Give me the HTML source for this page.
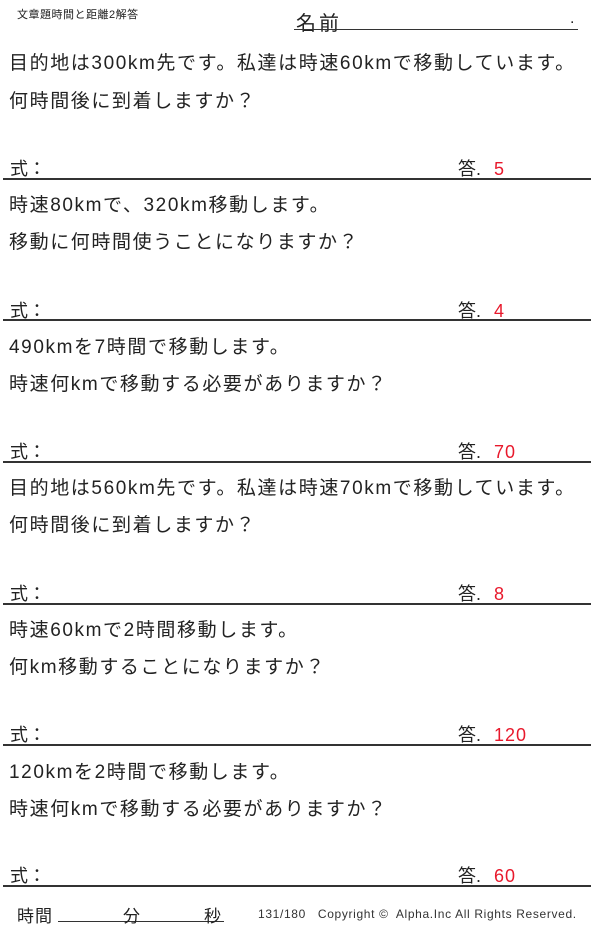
<!DOCTYPE html>
<html><head><meta charset="utf-8"><style>
body{margin:0;width:600px;height:928px;background:#fff;position:relative;font-family:"Liberation Sans","Noto Sans CJK JP",sans-serif;color:#222;overflow:hidden}
.a{position:absolute;white-space:nowrap}
.q{font-size:19px;left:9px;letter-spacing:1.6px}
.f{font-size:18px;left:10px}
.k{font-size:18px;left:458px}
.k span{color:#e8192c;margin-left:8px;letter-spacing:1px}
.ln{position:absolute;left:3px;width:588px;height:2px;background:#333}
</style></head><body>
<div class="a" style="left:17px;top:6px;font-size:11px;letter-spacing:0.5px">文章題時間と距離2解答</div>
<div class="a" style="left:296px;top:7px;font-size:20px;letter-spacing:3px">名前</div>
<div class="a" style="left:570px;top:10px;font-size:16px">.</div>
<div style="position:absolute;left:294px;top:29px;width:284px;height:1px;background:#333"></div>

<div class="a q" style="top:48px">目的地は300km先です。私達は時速60kmで移動しています。</div>
<div class="a q" style="top:86px">何時間後に到着しますか？</div>
<div class="a f" style="top:155px">式：</div><div class="a k" style="top:155px">答. <span>5</span></div>
<div class="ln" style="top:178px"></div>

<div class="a q" style="top:190px">時速80kmで、320km移動します。</div>
<div class="a q" style="top:227px">移動に何時間使うことになりますか？</div>
<div class="a f" style="top:297px">式：</div><div class="a k" style="top:297px">答. <span>4</span></div>
<div class="ln" style="top:319px"></div>

<div class="a q" style="top:332px">490kmを7時間で移動します。</div>
<div class="a q" style="top:369px">時速何kmで移動する必要がありますか？</div>
<div class="a f" style="top:438px">式：</div><div class="a k" style="top:438px">答. <span>70</span></div>
<div class="ln" style="top:461px"></div>

<div class="a q" style="top:473px">目的地は560km先です。私達は時速70kmで移動しています。</div>
<div class="a q" style="top:510px">何時間後に到着しますか？</div>
<div class="a f" style="top:580px">式：</div><div class="a k" style="top:580px">答. <span>8</span></div>
<div class="ln" style="top:603px"></div>

<div class="a q" style="top:615px">時速60kmで2時間移動します。</div>
<div class="a q" style="top:652px">何km移動することになりますか？</div>
<div class="a f" style="top:721px">式：</div><div class="a k" style="top:721px">答. <span>120</span></div>
<div class="ln" style="top:744px"></div>

<div class="a q" style="top:757px">120kmを2時間で移動します。</div>
<div class="a q" style="top:794px">時速何kmで移動する必要がありますか？</div>
<div class="a f" style="top:862px">式：</div><div class="a k" style="top:862px">答. <span>60</span></div>
<div class="ln" style="top:885px"></div>

<div class="a" style="left:17px;top:902px;font-size:17px;letter-spacing:1px">時間</div>
<div style="position:absolute;left:58px;top:921px;width:166px;height:1px;background:#333"></div>
<div class="a" style="left:123px;top:902px;font-size:17px">分</div>
<div class="a" style="left:204px;top:902px;font-size:17px">秒</div>
<div class="a" style="left:258px;top:907px;font-size:12px;color:#333;letter-spacing:0.65px">131/180 &nbsp;&nbsp;Copyright ©&nbsp; Alpha.Inc All Rights Reserved.</div>
</body></html>
